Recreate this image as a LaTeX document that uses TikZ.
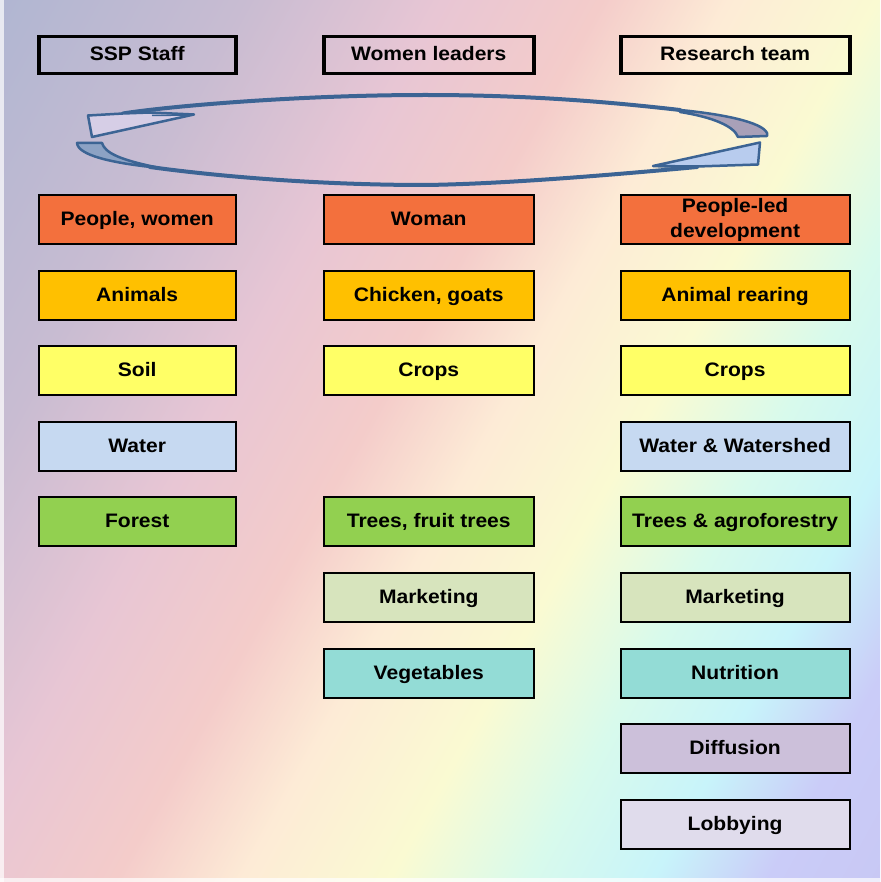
\documentclass[tikz,border=0pt]{standalone}
\usepackage{fontspec}
\setmainfont[FakeStretch=1.08]{Liberation Sans}
\definecolor{bgA}{HTML}{B0B6D2}
\definecolor{bgB}{HTML}{C8BCD2}
\definecolor{bgC}{HTML}{E8C6D4}
\definecolor{bgD}{HTML}{F4CCCA}
\definecolor{bgE}{HTML}{FDEBD6}
\definecolor{bgF}{HTML}{FAFAD2}
\definecolor{bgG}{HTML}{D8FAEC}
\definecolor{bgH}{HTML}{C8F4FA}
\definecolor{bgI}{HTML}{CACCF8}
\definecolor{bgJ}{HTML}{C8C8F4}
\definecolor{cOrange}{HTML}{F3703D}
\definecolor{cAmber}{HTML}{FFC000}
\definecolor{cYellow}{HTML}{FFFF66}
\definecolor{cBlue}{HTML}{C6D9F1}
\definecolor{cGreen}{HTML}{92D050}
\definecolor{cPale}{HTML}{D7E4BD}
\definecolor{cTeal}{HTML}{93DCD6}
\definecolor{cLilac}{HTML}{CCC0DA}
\definecolor{cLight}{HTML}{E0DCEC}
\definecolor{arcLine}{HTML}{3C6494}
\definecolor{arcGray}{HTML}{A8A0B8}
\definecolor{arcBlue}{HTML}{8CA2C4}
\definecolor{wedgeL}{HTML}{D6CEE6}
\definecolor{wedgeR}{HTML}{B8CCEE}
\pgfdeclarehorizontalshading{bgshade}{1300pt}{color(0pt)=(bgA); color(216pt)=(bgB); color(390pt)=(bgC); color(530pt)=(bgD); color(640pt)=(bgE); color(770pt)=(bgF); color(890pt)=(bgG); color(1000pt)=(bgH); color(1100pt)=(bgI); color(1203pt)=(bgJ)}
\begin{document}
\begin{tikzpicture}[x=1pt,y=-1pt,
  txt/.style={font=\bfseries\fontsize{19.5}{25}\selectfont, align=center, inner sep=0pt},
  one/.style={text height=14pt, text depth=2pt},
  head/.style={txt, one, draw=black, line width=3.8pt, minimum height=37pt},
  cbox/.style={txt, draw=black, line width=2pt, minimum height=49pt},
  cboxone/.style={cbox, one},
  colL/.style={minimum width=197pt},
  colM/.style={minimum width=210pt},
  colR/.style={minimum width=229pt},
  arcstroke/.style={draw=arcLine, line width=4pt, line cap=round},
  arcpart/.style={draw=arcLine, line width=2.5pt, line join=round}]
\useasboundingbox (0,0) rectangle (880,882);
\begin{scope}
  \clip (0,0) rectangle (880,882);
  \node[inner sep=0pt, rotate=-29] (bg) at (440,441) {\pgfuseshading{bgshade}};
  \fill[white, opacity=0.7] (0,0) rectangle (4,882);
  \fill[white, opacity=0.7] (0,878) rectangle (880,882);
\end{scope}

% header boxes
\node[head, colL] (h1) at (137.2,55) {SSP Staff};
\node[head, colM] (h2) at (428.75,55) {Women leaders};
\node[head, colR] (h3) at (735.1,55) {Research team};

% cycle arrows
\draw[arcstroke] (123,113.5) .. controls (170,106) and (300,95) .. (425,95)
  .. controls (530,95) and (610,102) .. (680,110);
\draw[arcpart, fill=arcGray] (680,110) .. controls (722,114) and (762,122) .. (767,133)
  -- (767,136) -- (738,137) .. controls (734,126) and (712,117) .. (680,112) -- cycle;
\draw[arcpart, fill=wedgeL] (88,115.5) -- (123,113.5) -- (150,112.5) -- (194,114.5) -- (92,137) -- cycle;
\draw[arcLine, line width=1.5pt] (152,115.5) -- (190,115);
\draw[arcstroke] (150,167) .. controls (230,178) and (330,185) .. (425,185)
  .. controls (500,184) and (600,176) .. (697,167);
\draw[arcpart, fill=arcBlue] (77,143) -- (102,143) .. controls (105,153) and (120,160) .. (160,168)
  .. controls (110,163) and (78,155) .. (77,143) -- cycle;
\draw[arcpart, fill=wedgeR] (653,166) -- (760,142.5) -- (758,164.5) -- (697,166.5) -- cycle;
\draw[arcLine, line width=1.5pt] (658,166.5) -- (697,168);

% left column
\node[cboxone, colL, fill=cOrange] (l1) at (137.2,219.5) {People, women};
\node[cboxone, colL, fill=cAmber]  (l2) at (137.2,295.1) {Animals};
\node[cboxone, colL, fill=cYellow] (l3) at (137.2,370.7) {Soil};
\node[cboxone, colL, fill=cBlue]   (l4) at (137.2,446.3) {Water};
\node[cboxone, colL, fill=cGreen]  (l5) at (137.2,521.9) {Forest};

% middle column
\node[cboxone, colM, fill=cOrange] (m1) at (428.75,219.5) {Woman};
\node[cboxone, colM, fill=cAmber]  (m2) at (428.75,295.1) {Chicken, goats};
\node[cboxone, colM, fill=cYellow] (m3) at (428.75,370.7) {Crops};
\node[cboxone, colM, fill=cGreen]  (m5) at (428.75,521.9) {Trees, fruit trees};
\node[cboxone, colM, fill=cPale]   (m6) at (428.75,597.5) {Marketing};
\node[cboxone, colM, fill=cTeal]   (m7) at (428.75,673.1) {Vegetables};

% right column
\node[cbox, colR, fill=cOrange] (r1) at (735.1,219.5) {People-led\\development};
\node[cboxone, colR, fill=cAmber]  (r2) at (735.1,295.1) {Animal rearing};
\node[cboxone, colR, fill=cYellow] (r3) at (735.1,370.7) {Crops};
\node[cboxone, colR, fill=cBlue]   (r4) at (735.1,446.3) {Water \& Watershed};
\node[cboxone, colR, fill=cGreen]  (r5) at (735.1,521.9) {Trees \& agroforestry};
\node[cboxone, colR, fill=cPale]   (r6) at (735.1,597.5) {Marketing};
\node[cboxone, colR, fill=cTeal]   (r7) at (735.1,673.1) {Nutrition};
\node[cboxone, colR, fill=cLilac]  (r8) at (735.1,748.7) {Diffusion};
\node[cboxone, colR, fill=cLight]  (r9) at (735.1,824.3) {Lobbying};
\end{tikzpicture}
\end{document}
